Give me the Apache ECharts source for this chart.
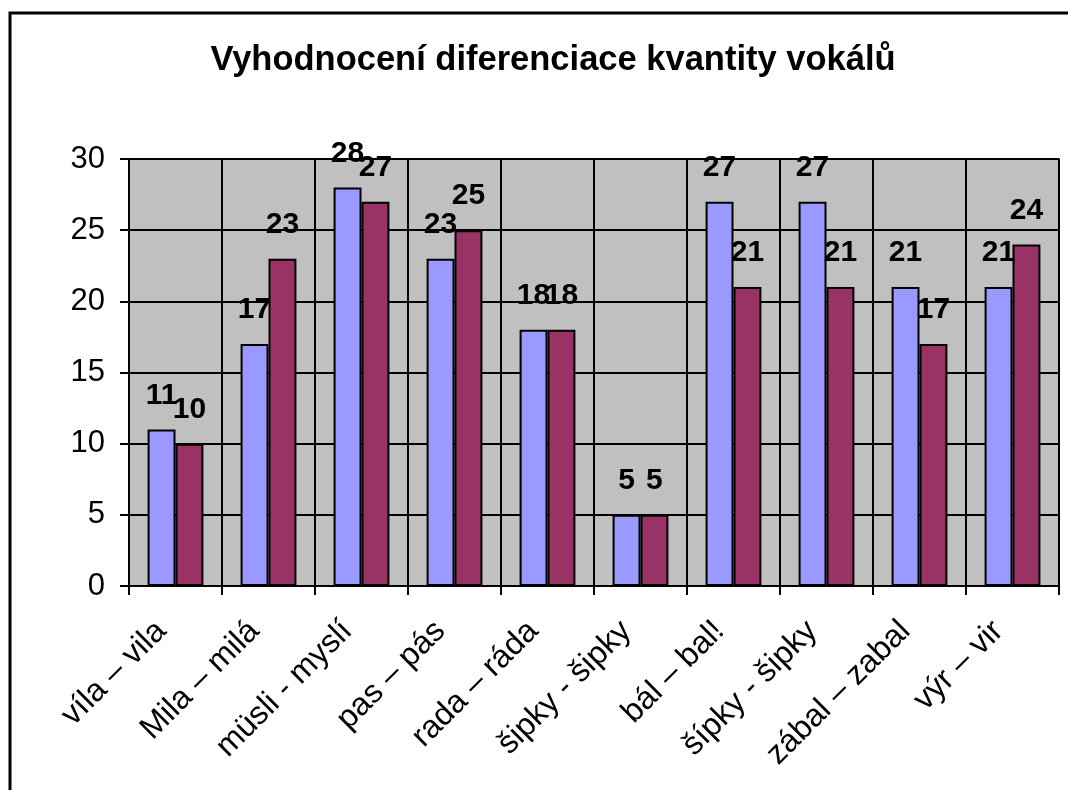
<!DOCTYPE html>
<html>
<head>
<meta charset="utf-8">
<title>Vyhodnocení diferenciace kvantity vokálů</title>
<script src="https://cdn.jsdelivr.net/npm/echarts@6/dist/echarts.min.js"></script>
<style>
  html, body { margin: 0; padding: 0; background: #ffffff; }
  #chart { width: 1068px; height: 790px; }
</style>
</head>
<body>
<div id="chart"></div>
<script>
// data
var categories = ['víla – vila', 'Mila – milá', 'müsli - myslí', 'pas – pás', 'rada – ráda',
  'šipky - šipky', 'bál – bal!', 'šípky - šipky', 'zábal – zabal', 'výr – vir'];
var seriesA = [11, 17, 28, 23, 18, 5, 27, 27, 21, 21];
var seriesB = [10, 23, 27, 25, 18, 5, 21, 21, 17, 24];
var yTicks = { min: 0, max: 30, interval: 5 };

var chart = echarts.init(document.getElementById('chart'), null, { renderer: 'canvas' });

var font = 'Liberation Sans, Arial, sans-serif';

// popisky hodnot nad sloupci
function valueLabel() {
  return {
    show: true,
    position: 'top',
    distance: 19,
    color: '#000',
    fontFamily: font,
    fontWeight: 'bold',
    fontSize: 30
  };
}

var option = {
  backgroundColor: '#ffffff',
  animation: false,
  title: {
    text: 'Vyhodnocení diferenciace kvantity vokálů',
    left: 548,
    top: 38,
    textAlign: 'center',
    textStyle: {
      color: '#000',
      fontFamily: font,
      fontWeight: 'bold',
      fontSize: 34.5
    }
  },
  graphic: [{
    type: 'rect',
    shape: { x: 10, y: 13, width: 1100, height: 900 },
    style: { fill: 'none', stroke: '#000', lineWidth: 3 },
    silent: true
  }],
  grid: {
    left: 129,
    right: 9,
    top: 159,
    bottom: 204,
    show: true,
    backgroundColor: '#c0c0c0',
    borderColor: '#808080',
    borderWidth: 2
  },
  xAxis: {
    type: 'category',
    data: categories,
    axisLine: { lineStyle: { color: '#000', width: 2 } },
    axisTick: { show: true, length: 9, lineStyle: { color: '#000', width: 2 } },
    splitLine: { show: true, lineStyle: { color: '#000', width: 2 } },
    axisLabel: {
      rotate: 45,
      interval: 0,
      margin: 26,
      padding: [0, 20, 0, 0],
      color: '#000',
      fontFamily: font,
      fontSize: 32
    }
  },
  yAxis: {
    type: 'value',
    min: yTicks.min,
    max: yTicks.max,
    interval: yTicks.interval,
    axisLine: { show: true, lineStyle: { color: '#000', width: 2 } },
    axisTick: { show: true, length: 9, lineStyle: { color: '#000', width: 2 } },
    splitLine: { show: true, lineStyle: { color: '#000', width: 2 } },
    axisLabel: {
      margin: 24,
      color: '#000',
      fontFamily: font,
      fontSize: 31
    }
  },
  series: [{
    type: 'bar',
    data: seriesA,
    barGap: 0,
    barCategoryGap: '40%',
    itemStyle: { color: '#9999ff', borderColor: '#000', borderWidth: 2 },
    label: valueLabel()
  }, {
    type: 'bar',
    data: seriesB,
    itemStyle: { color: '#993366', borderColor: '#000', borderWidth: 2 },
    label: valueLabel()
  }]
};

chart.setOption(option);
</script>
</body>
</html>
